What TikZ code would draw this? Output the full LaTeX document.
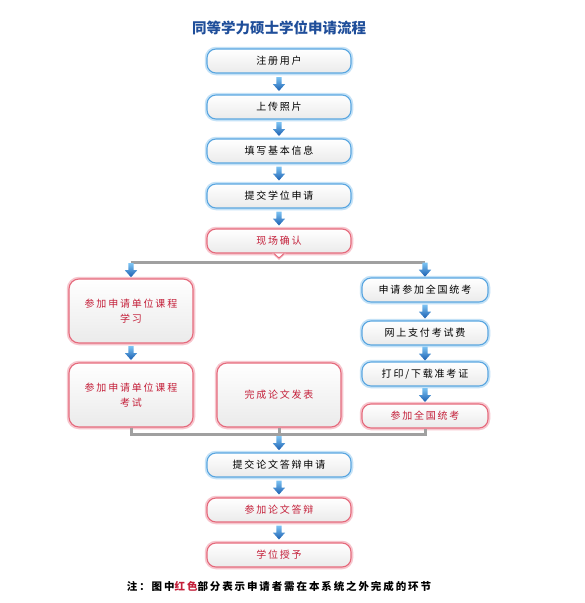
\documentclass[tikz,border=0pt]{standalone}
\usepackage{fontspec}
\setmainfont{Noto Sans CJK SC}
\newfontfamily\cjksp[LetterSpace=18]{Noto Sans CJK SC}
\newfontfamily\cjkti{Noto Sans CJK SC}
\usetikzlibrary{calc}
\definecolor{bxblue}{HTML}{5AA6E0}
\definecolor{bxglow}{HTML}{C4E2F7}
\definecolor{bxred}{HTML}{E56A7C}
\definecolor{rdglow}{HTML}{F7C6CE}
\definecolor{redtxt}{HTML}{C4203A}
\definecolor{titleblue}{HTML}{1F4E9A}
\definecolor{bargray}{HTML}{A0A0A0}
\definecolor{arrtop}{HTML}{7CC4F4}
\definecolor{arrbot}{HTML}{1A5EB0}
\tikzset{
  basebox/.style={rounded corners=9pt, top color=white, bottom color=black!8,
    minimum height=24pt, inner sep=0pt, align=center,
    font=\cjksp\fontsize{10}{15}\selectfont},
  bbox/.style={basebox, draw=bxblue, line width=1.1pt,
    preaction={draw=bxglow, line width=4.5pt}, minimum width=144pt, text=black},
  rbox/.style={basebox, draw=bxred, line width=1.1pt,
    preaction={draw=rdglow, line width=4.5pt}, minimum width=144pt, text=redtxt},
  rbig/.style={rbox, minimum width=124pt, minimum height=64pt, rounded corners=10pt},
  bar/.style={draw=bargray, line width=3pt},
  barrow/.pic={
    \shade[top color=arrtop, bottom color=arrbot]
      (-2.6,-7) -- (2.6,-7) -- (2.6,0) -- (6.2,0) -- (0,7) -- (-6.2,0) -- (-2.6,0) -- cycle;
  }
}
\begin{document}
\begin{tikzpicture}[x=1pt,y=-1pt]
\useasboundingbox[fill=white] (0,0) rectangle (585,603);
\node[font=\cjkti\bfseries\fontsize{14.5}{16}\selectfont, text=titleblue] (title) at (279,28) {同等学力硕士学位申请流程};
\node[bbox] (n1) at (279,61) {注册用户};
\node[bbox] (n2) at (279,107) {上传照片};
\node[bbox] (n3) at (279,151) {填写基本信息};
\node[bbox] (n4) at (279,196) {提交学位申请};
\node[rbox] (n5) at (279,241) {现场确认};
\node[rbig] (l1) at (131,311) {参加申请单位课程\\学习};
\node[rbig] (l2) at (131,395) {参加申请单位课程\\考试};
\node[rbig] (m2) at (279,395) {完成论文发表};
\node[bbox, minimum width=126pt] (r1) at (425,290) {申请参加全国统考};
\node[bbox, minimum width=126pt] (r2) at (425,333) {网上支付考试费};
\node[bbox, minimum width=126pt] (r3) at (425,374) {打印/下载准考证};
\node[rbox, minimum width=126pt] (r4) at (425,416) {参加全国统考};
\node[bbox] (n6) at (279,465) {提交论文答辩申请};
\node[rbox] (n7) at (279,510) {参加论文答辩};
\node[rbox] (n8) at (279,555) {学位授予};
\node[font=\cjksp\bfseries\fontsize{10.5}{12}\selectfont] (note) at (279,586)
  {注：图中\textcolor{redtxt}{红色}部分表示申请者需在本系统之外完成的环节};
% vertical arrows
\foreach \a/\b in {n1/n2,n2/n3,n3/n4,n4/n5,r1/r2,r2/r3,r3/r4,l1/l2,n6/n7,n7/n8}{
  \path ($(\a.south)!0.5!(\b.north)$) pic{barrow};
}
% pointer notch under 现场确认
\fill[rdglow] ([xshift=-7pt]n5.south) -- ([yshift=-6.5pt]n5.south) -- ([xshift=7pt]n5.south) -- cycle;
\draw[bxred, fill=white, line width=1pt, line join=round]
  ([xshift=-5pt]n5.south) -- ([yshift=-4.5pt]n5.south) -- ([xshift=5pt]n5.south);
% top splitter
\coordinate (tb) at (279,262);
\draw[bar] (l1.north |- tb) -- (r1.north |- tb);
\path ($(l1.north |- tb)!0.5!(l1.north)$) pic{barrow};
\path ($(r1.north |- tb)!0.5!(r1.north)$) pic{barrow};
% bottom joiner
\coordinate (bb) at (279,434);
\draw[bar] (l2.south) -- (l2.south |- bb) -- (r4.south |- bb) -- (r4.south);
\draw[bar] (m2.south) -- (bb);
\path ($(bb)!0.5!(n6.north)$) pic{barrow};
\end{tikzpicture}
\end{document}
